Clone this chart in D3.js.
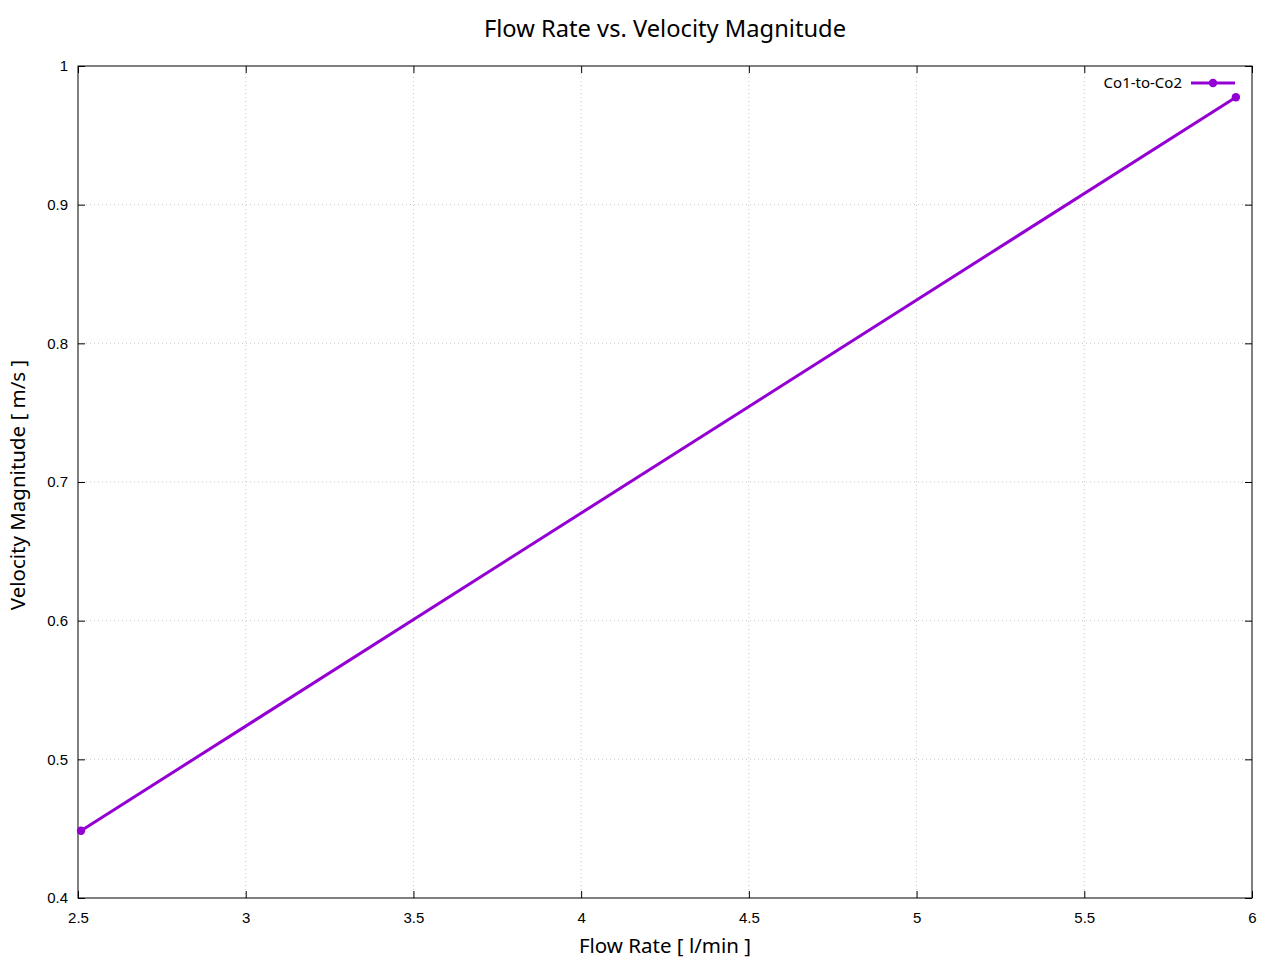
<!DOCTYPE html>
<html>
<head>
<meta charset="utf-8">
<script src="https://cdn.jsdelivr.net/npm/d3@7"></script>
<style>
  body { margin: 0; background: #fff; }
  svg { display: block; }
</style>
</head>
<body>
<div id="chart"></div>
<script>
const width = 1280, height = 960;

// data
const flowRate = [2.509, 5.952];
const velocity = [0.4485, 0.9775];
const seriesName = 'Co1-to-Co2';
const xTicks = [2.5, 3, 3.5, 4, 4.5, 5, 5.5, 6];
const yTicks = [0.4, 0.5, 0.6, 0.7, 0.8, 0.9, 1];

const margin = {top: 66, right: 28, bottom: 62, left: 78};
const color = '#9400d3';
const labelFont = "'Noto Sans', 'Open Sans', sans-serif";
const tickFont = "'Liberation Sans', Arial, sans-serif";

const x = d3.scaleLinear().domain([2.5, 6]).range([margin.left, width - margin.right]);
const y = d3.scaleLinear().domain([0.4, 1]).range([height - margin.bottom, margin.top]);

const svg = d3.select('#chart').append('svg')
  .attr('width', width).attr('height', height);

// dotted grid
const grid = svg.append('g').attr('stroke', '#c8c8c8').attr('stroke-width', 1).attr('stroke-dasharray', '1,3');
grid.selectAll('line.gx').data(xTicks.slice(1, -1)).enter().append('line')
  .attr('x1', d => x(d)).attr('x2', d => x(d))
  .attr('y1', y(0.4)).attr('y2', y(1));
grid.selectAll('line.gy').data(yTicks.slice(1, -1)).enter().append('line')
  .attr('y1', d => y(d)).attr('y2', d => y(d))
  .attr('x1', x(2.5)).attr('x2', x(6));

// axes, ticks inward and mirrored
const fmt = d => d3.format('~g')(d);
const tick = 7;
const axB = svg.append('g').attr('transform', `translate(0,${y(0.4)})`)
  .call(d3.axisBottom(x).tickValues(xTicks).tickFormat(fmt).tickSizeInner(-tick).tickSizeOuter(0).tickPadding(14));
const axT = svg.append('g').attr('transform', `translate(0,${y(1)})`)
  .call(d3.axisTop(x).tickValues(xTicks).tickFormat('').tickSizeInner(-tick).tickSizeOuter(0));
const axL = svg.append('g').attr('transform', `translate(${x(2.5)},0)`)
  .call(d3.axisLeft(y).tickValues(yTicks).tickFormat(fmt).tickSizeInner(-tick).tickSizeOuter(0).tickPadding(10));
const axR = svg.append('g').attr('transform', `translate(${x(6)},0)`)
  .call(d3.axisRight(y).tickValues(yTicks).tickFormat('').tickSizeInner(-tick).tickSizeOuter(0));

[axB, axT, axL, axR].forEach(a => {
  a.attr('font-size', null).attr('font-family', null);
  a.select('.domain').remove();
  a.selectAll('line').attr('stroke', '#000').attr('stroke-width', 1);
  a.selectAll('text').attr('fill', '#000')
    .attr('font-family', tickFont).attr('font-size', 15);
});

// border
svg.append('rect')
  .attr('x', x(2.5)).attr('y', y(1))
  .attr('width', x(6) - x(2.5)).attr('height', y(0.4) - y(1))
  .attr('fill', 'none').attr('stroke', '#000').attr('stroke-width', 1);

// series
const pts = flowRate.map((d, i) => [d, velocity[i]]);
svg.append('path').datum(pts)
  .attr('fill', 'none').attr('stroke', color).attr('stroke-width', 3)
  .attr('d', d3.line().x(d => x(d[0])).y(d => y(d[1])));
svg.selectAll('circle.pt').data(pts).enter().append('circle')
  .attr('cx', d => x(d[0])).attr('cy', d => y(d[1])).attr('r', 4.2)
  .attr('fill', color);

// legend
const lg = svg.append('g').attr('transform', 'translate(0,83)');
lg.append('text').attr('x', 1182).attr('y', 5).attr('text-anchor', 'end')
  .style('font-family', labelFont).style('font-size', '15px').text(seriesName);
lg.append('line').attr('x1', 1191).attr('x2', 1235).attr('y1', 0).attr('y2', 0)
  .attr('stroke', color).attr('stroke-width', 3);
lg.append('circle').attr('cx', 1213).attr('cy', 0).attr('r', 4.2).attr('fill', color);

// titles
svg.append('text').attr('x', 665).attr('y', 37).attr('text-anchor', 'middle')
  .style('font-family', labelFont).style('font-size', '23.7px').text('Flow Rate vs. Velocity Magnitude');
svg.append('text').attr('x', 665).attr('y', 953).attr('text-anchor', 'middle')
  .style('font-family', labelFont).style('font-size', '20.5px').text('Flow Rate [ l/min ]');
svg.append('text').attr('transform', 'translate(25,485) rotate(-90)').attr('text-anchor', 'middle')
  .style('font-family', labelFont).style('font-size', '20.5px').text('Velocity Magnitude [ m/s ]');
</script>
</body>
</html>
